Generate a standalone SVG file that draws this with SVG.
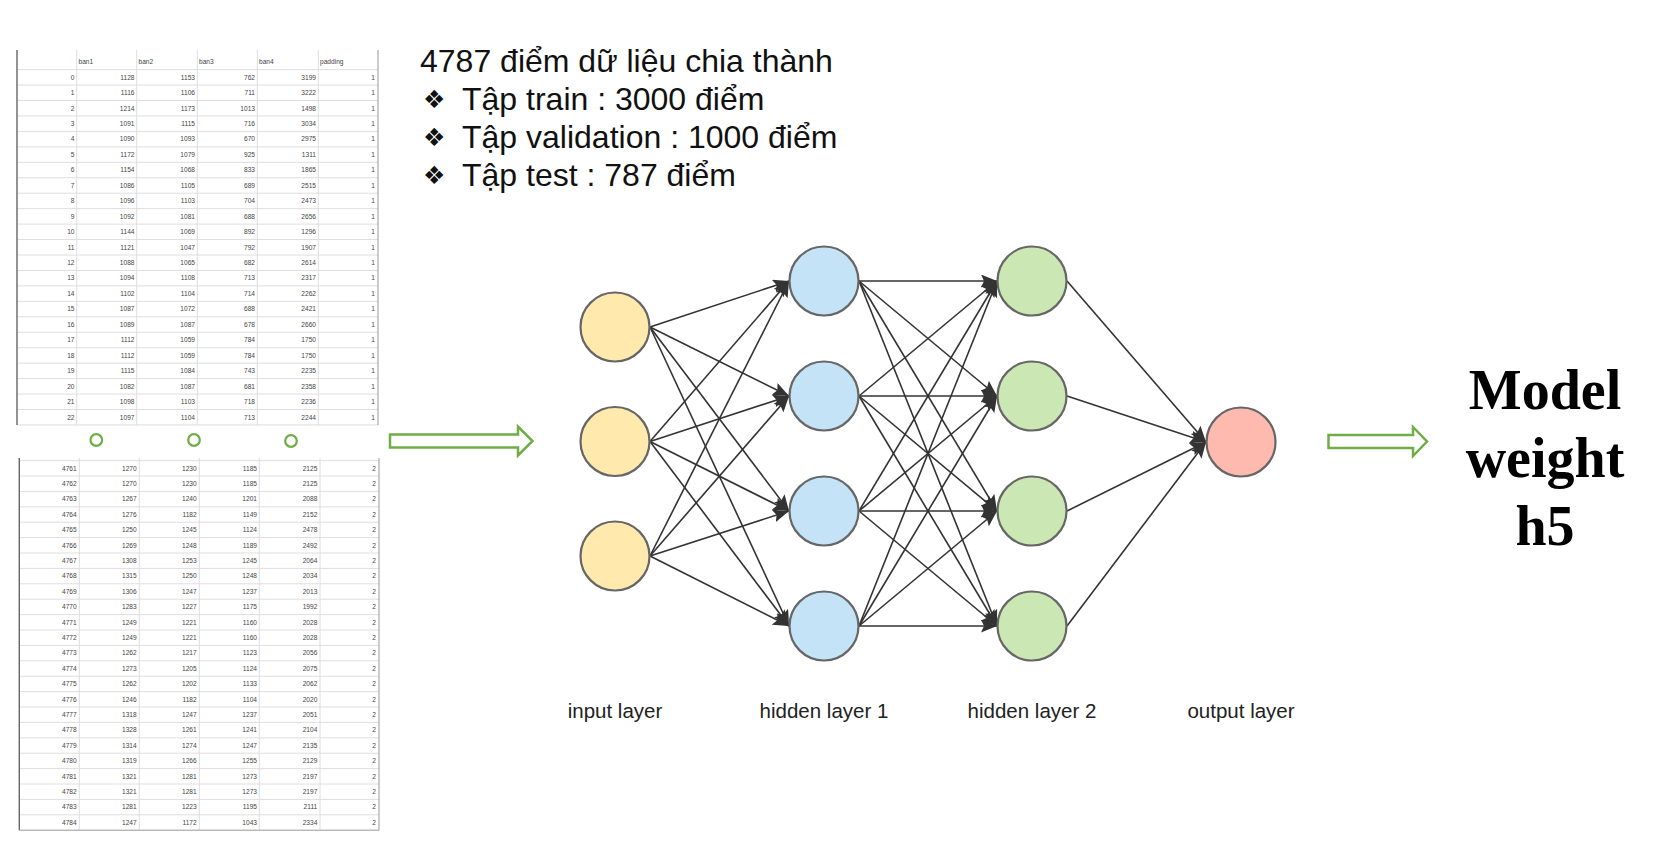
<svg xmlns="http://www.w3.org/2000/svg" width="1660" height="864" viewBox="0 0 1660 864">
<style>
.tb{font-family:"Liberation Sans Narrow","Liberation Sans",Arial,sans-serif;font-size:6.6px;fill:#444}
.r{text-anchor:end}
.grid{stroke:#dedede;stroke-width:1;fill:none}
.bord{stroke:#666;stroke-width:1.4;fill:none}
.big{font-family:"Liberation Sans",Arial,sans-serif;font-size:32px;fill:#111}
.bul{font-family:"DejaVu Sans",sans-serif;font-size:25px;fill:#111}
.lbl{font-family:"Liberation Sans",Arial,sans-serif;font-size:20.5px;fill:#222;text-anchor:middle}
.mw{font-family:"Liberation Serif","Times New Roman",serif;font-weight:bold;font-size:56px;fill:#000;text-anchor:middle}
.node{stroke:#666;stroke-width:2.2}
.in{fill:#ffe9ad}
.h1{fill:#c4e3f6}
.h2{fill:#cbe7b4}
.out{fill:#ffbab0}
.con line{stroke:#333;stroke-width:1.6;marker-end:url(#ah)}
.garrow{fill:#fff;stroke:#70ad47;stroke-width:2.5}
.dot{fill:none;stroke:#70ad47;stroke-width:2.2}
</style>
<defs>
<marker id="ah" markerUnits="userSpaceOnUse" markerWidth="16" markerHeight="13" refX="16" refY="6.5" orient="auto">
<path d="M0,0 L16,6.5 L0,13 L3,6.5 Z" fill="#333"/>
</marker>
</defs>
<rect width="1660" height="864" fill="#fff"/>

<!-- Table 1 -->
<g id="table1">
<path class="grid" d="M17,69.6H378M17,85.05H378M17,100.5H378M17,115.95H378M17,131.4H378M17,146.85H378M17,162.3H378M17,177.75H378M17,193.2H378M17,208.65H378M17,224.1H378M17,239.55H378M17,255H378M17,270.45H378M17,285.9H378M17,301.35H378M17,316.8H378M17,332.25H378M17,347.7H378M17,363.15H378M17,378.6H378M17,394.05H378M17,409.5H378M17,424.95H378"/>
<path class="grid" d="M76.7,50V425M136.7,50V425M197.3,50V425M257.3,50V425M318.3,50V425"/>
<path class="bord" d="M17,50V425"/>
<path d="M378,50V425" stroke="#999" stroke-width="1" fill="none"/>
<g class="tb" transform="translate(0,64)"><text x="78.5">ban1</text><text x="138.5">ban2</text><text x="199">ban3</text><text x="259">ban4</text><text x="320">padding</text></g>
<g class="tb r">
<g transform="translate(0,79.6)"><text x="74.5">0</text><text x="134.5">1128</text><text x="195">1153</text><text x="255">762</text><text x="316">3199</text><text x="375">1</text></g>
<g transform="translate(0,95.05)"><text x="74.5">1</text><text x="134.5">1116</text><text x="195">1106</text><text x="255">711</text><text x="316">3222</text><text x="375">1</text></g>
<g transform="translate(0,110.5)"><text x="74.5">2</text><text x="134.5">1214</text><text x="195">1173</text><text x="255">1013</text><text x="316">1498</text><text x="375">1</text></g>
<g transform="translate(0,125.95)"><text x="74.5">3</text><text x="134.5">1091</text><text x="195">1115</text><text x="255">716</text><text x="316">3034</text><text x="375">1</text></g>
<g transform="translate(0,141.4)"><text x="74.5">4</text><text x="134.5">1090</text><text x="195">1093</text><text x="255">670</text><text x="316">2975</text><text x="375">1</text></g>
<g transform="translate(0,156.85)"><text x="74.5">5</text><text x="134.5">1172</text><text x="195">1079</text><text x="255">925</text><text x="316">1311</text><text x="375">1</text></g>
<g transform="translate(0,172.3)"><text x="74.5">6</text><text x="134.5">1154</text><text x="195">1068</text><text x="255">833</text><text x="316">1865</text><text x="375">1</text></g>
<g transform="translate(0,187.75)"><text x="74.5">7</text><text x="134.5">1086</text><text x="195">1105</text><text x="255">689</text><text x="316">2515</text><text x="375">1</text></g>
<g transform="translate(0,203.2)"><text x="74.5">8</text><text x="134.5">1096</text><text x="195">1103</text><text x="255">704</text><text x="316">2473</text><text x="375">1</text></g>
<g transform="translate(0,218.65)"><text x="74.5">9</text><text x="134.5">1092</text><text x="195">1081</text><text x="255">688</text><text x="316">2656</text><text x="375">1</text></g>
<g transform="translate(0,234.1)"><text x="74.5">10</text><text x="134.5">1144</text><text x="195">1069</text><text x="255">892</text><text x="316">1296</text><text x="375">1</text></g>
<g transform="translate(0,249.55)"><text x="74.5">11</text><text x="134.5">1121</text><text x="195">1047</text><text x="255">792</text><text x="316">1907</text><text x="375">1</text></g>
<g transform="translate(0,265)"><text x="74.5">12</text><text x="134.5">1088</text><text x="195">1065</text><text x="255">682</text><text x="316">2614</text><text x="375">1</text></g>
<g transform="translate(0,280.45)"><text x="74.5">13</text><text x="134.5">1094</text><text x="195">1108</text><text x="255">713</text><text x="316">2317</text><text x="375">1</text></g>
<g transform="translate(0,295.9)"><text x="74.5">14</text><text x="134.5">1102</text><text x="195">1104</text><text x="255">714</text><text x="316">2262</text><text x="375">1</text></g>
<g transform="translate(0,311.35)"><text x="74.5">15</text><text x="134.5">1087</text><text x="195">1072</text><text x="255">688</text><text x="316">2421</text><text x="375">1</text></g>
<g transform="translate(0,326.8)"><text x="74.5">16</text><text x="134.5">1089</text><text x="195">1087</text><text x="255">678</text><text x="316">2660</text><text x="375">1</text></g>
<g transform="translate(0,342.25)"><text x="74.5">17</text><text x="134.5">1112</text><text x="195">1059</text><text x="255">784</text><text x="316">1750</text><text x="375">1</text></g>
<g transform="translate(0,357.7)"><text x="74.5">18</text><text x="134.5">1112</text><text x="195">1059</text><text x="255">784</text><text x="316">1750</text><text x="375">1</text></g>
<g transform="translate(0,373.15)"><text x="74.5">19</text><text x="134.5">1115</text><text x="195">1084</text><text x="255">743</text><text x="316">2235</text><text x="375">1</text></g>
<g transform="translate(0,388.6)"><text x="74.5">20</text><text x="134.5">1082</text><text x="195">1087</text><text x="255">681</text><text x="316">2358</text><text x="375">1</text></g>
<g transform="translate(0,404.05)"><text x="74.5">21</text><text x="134.5">1098</text><text x="195">1103</text><text x="255">718</text><text x="316">2236</text><text x="375">1</text></g>
<g transform="translate(0,419.5)"><text x="74.5">22</text><text x="134.5">1097</text><text x="195">1104</text><text x="255">713</text><text x="316">2244</text><text x="375">1</text></g>
</g>
</g>

<!-- ellipsis dots -->
<g id="dots">
<circle class="dot" cx="96.3" cy="440" r="5.8"/>
<circle class="dot" cx="194" cy="440" r="5.8"/>
<circle class="dot" cx="291" cy="441" r="5.8"/>
</g>

<!-- Table 2 -->
<g id="table2">
<path class="grid" d="M19.3,460.6H379M19.3,476H379M19.3,491.4H379M19.3,506.8H379M19.3,522.2H379M19.3,537.6H379M19.3,553H379M19.3,568.4H379M19.3,583.8H379M19.3,599.2H379M19.3,614.6H379M19.3,630H379M19.3,645.4H379M19.3,660.8H379M19.3,676.2H379M19.3,691.6H379M19.3,707H379M19.3,722.4H379M19.3,737.8H379M19.3,753.2H379M19.3,768.6H379M19.3,784H379M19.3,799.4H379M19.3,814.8H379"/>
<path class="grid" d="M79.3,458V830M139.3,458V830M199.3,458V830M259.3,458V830M320,458V830"/>
<path class="bord" d="M19.3,458V830.2"/>
<path d="M379,458V830.2M19.3,830.2H379" stroke="#999" stroke-width="1" fill="none"/>
<g class="tb r">
<g transform="translate(0,470.6)"><text x="76.7">4761</text><text x="136.7">1270</text><text x="196.7">1230</text><text x="257">1185</text><text x="317.3">2125</text><text x="376">2</text></g>
<g transform="translate(0,486)"><text x="76.7">4762</text><text x="136.7">1270</text><text x="196.7">1230</text><text x="257">1185</text><text x="317.3">2125</text><text x="376">2</text></g>
<g transform="translate(0,501.4)"><text x="76.7">4763</text><text x="136.7">1267</text><text x="196.7">1240</text><text x="257">1201</text><text x="317.3">2088</text><text x="376">2</text></g>
<g transform="translate(0,516.8)"><text x="76.7">4764</text><text x="136.7">1276</text><text x="196.7">1182</text><text x="257">1149</text><text x="317.3">2152</text><text x="376">2</text></g>
<g transform="translate(0,532.2)"><text x="76.7">4765</text><text x="136.7">1250</text><text x="196.7">1245</text><text x="257">1124</text><text x="317.3">2478</text><text x="376">2</text></g>
<g transform="translate(0,547.6)"><text x="76.7">4766</text><text x="136.7">1269</text><text x="196.7">1248</text><text x="257">1189</text><text x="317.3">2492</text><text x="376">2</text></g>
<g transform="translate(0,563)"><text x="76.7">4767</text><text x="136.7">1308</text><text x="196.7">1253</text><text x="257">1245</text><text x="317.3">2064</text><text x="376">2</text></g>
<g transform="translate(0,578.4)"><text x="76.7">4768</text><text x="136.7">1315</text><text x="196.7">1250</text><text x="257">1248</text><text x="317.3">2034</text><text x="376">2</text></g>
<g transform="translate(0,593.8)"><text x="76.7">4769</text><text x="136.7">1306</text><text x="196.7">1247</text><text x="257">1237</text><text x="317.3">2013</text><text x="376">2</text></g>
<g transform="translate(0,609.2)"><text x="76.7">4770</text><text x="136.7">1283</text><text x="196.7">1227</text><text x="257">1175</text><text x="317.3">1992</text><text x="376">2</text></g>
<g transform="translate(0,624.6)"><text x="76.7">4771</text><text x="136.7">1249</text><text x="196.7">1221</text><text x="257">1160</text><text x="317.3">2028</text><text x="376">2</text></g>
<g transform="translate(0,640)"><text x="76.7">4772</text><text x="136.7">1249</text><text x="196.7">1221</text><text x="257">1160</text><text x="317.3">2028</text><text x="376">2</text></g>
<g transform="translate(0,655.4)"><text x="76.7">4773</text><text x="136.7">1262</text><text x="196.7">1217</text><text x="257">1123</text><text x="317.3">2056</text><text x="376">2</text></g>
<g transform="translate(0,670.8)"><text x="76.7">4774</text><text x="136.7">1273</text><text x="196.7">1205</text><text x="257">1124</text><text x="317.3">2075</text><text x="376">2</text></g>
<g transform="translate(0,686.2)"><text x="76.7">4775</text><text x="136.7">1262</text><text x="196.7">1202</text><text x="257">1133</text><text x="317.3">2062</text><text x="376">2</text></g>
<g transform="translate(0,701.6)"><text x="76.7">4776</text><text x="136.7">1246</text><text x="196.7">1182</text><text x="257">1104</text><text x="317.3">2020</text><text x="376">2</text></g>
<g transform="translate(0,717)"><text x="76.7">4777</text><text x="136.7">1318</text><text x="196.7">1247</text><text x="257">1237</text><text x="317.3">2051</text><text x="376">2</text></g>
<g transform="translate(0,732.4)"><text x="76.7">4778</text><text x="136.7">1328</text><text x="196.7">1261</text><text x="257">1241</text><text x="317.3">2104</text><text x="376">2</text></g>
<g transform="translate(0,747.8)"><text x="76.7">4779</text><text x="136.7">1314</text><text x="196.7">1274</text><text x="257">1247</text><text x="317.3">2135</text><text x="376">2</text></g>
<g transform="translate(0,763.2)"><text x="76.7">4780</text><text x="136.7">1319</text><text x="196.7">1266</text><text x="257">1255</text><text x="317.3">2129</text><text x="376">2</text></g>
<g transform="translate(0,778.6)"><text x="76.7">4781</text><text x="136.7">1321</text><text x="196.7">1281</text><text x="257">1273</text><text x="317.3">2197</text><text x="376">2</text></g>
<g transform="translate(0,794)"><text x="76.7">4782</text><text x="136.7">1321</text><text x="196.7">1281</text><text x="257">1273</text><text x="317.3">2197</text><text x="376">2</text></g>
<g transform="translate(0,809.4)"><text x="76.7">4783</text><text x="136.7">1281</text><text x="196.7">1223</text><text x="257">1195</text><text x="317.3">2111</text><text x="376">2</text></g>
<g transform="translate(0,824.8)"><text x="76.7">4784</text><text x="136.7">1247</text><text x="196.7">1172</text><text x="257">1043</text><text x="317.3">2334</text><text x="376">2</text></g>
</g>
</g>

<!-- Split text -->
<g id="split-text">
<text class="big" x="420" y="72">4787 điểm dữ liệu chia thành</text>
<text class="bul" x="423" y="108">❖</text><text class="big" x="462" y="110">Tập train : 3000 điểm</text>
<text class="bul" x="423" y="146">❖</text><text class="big" x="462" y="148">Tập validation : 1000 điểm</text>
<text class="bul" x="423" y="184">❖</text><text class="big" x="462" y="186">Tập test : 787 điểm</text>
</g>

<!-- Green block arrows -->
<g id="arrow-data">
<path class="garrow" d="M390,434.5H518V426.5L532.5,441L518,455.5V447.5H390Z"/>
</g>
<g id="arrow-model">
<path class="garrow" d="M1328.5,435H1413V427L1427,441.5L1413,456V448H1328.5Z"/>
</g>

<!-- Connectors -->
<g id="connectors" class="con">
<line x1="650" y1="327" x2="789" y2="281"/>
<line x1="650" y1="327" x2="789" y2="396"/>
<line x1="650" y1="327" x2="789" y2="511"/>
<line x1="650" y1="327" x2="789" y2="626"/>
<line x1="650" y1="441.5" x2="789" y2="281"/>
<line x1="650" y1="441.5" x2="789" y2="396"/>
<line x1="650" y1="441.5" x2="789" y2="511"/>
<line x1="650" y1="441.5" x2="789" y2="626"/>
<line x1="650" y1="556" x2="789" y2="281"/>
<line x1="650" y1="556" x2="789" y2="396"/>
<line x1="650" y1="556" x2="789" y2="511"/>
<line x1="650" y1="556" x2="789" y2="626"/>
<line x1="859" y1="281" x2="997" y2="281"/>
<line x1="859" y1="281" x2="997" y2="396"/>
<line x1="859" y1="281" x2="997" y2="511"/>
<line x1="859" y1="281" x2="997" y2="626"/>
<line x1="859" y1="396" x2="997" y2="281"/>
<line x1="859" y1="396" x2="997" y2="396"/>
<line x1="859" y1="396" x2="997" y2="511"/>
<line x1="859" y1="396" x2="997" y2="626"/>
<line x1="859" y1="511" x2="997" y2="281"/>
<line x1="859" y1="511" x2="997" y2="396"/>
<line x1="859" y1="511" x2="997" y2="511"/>
<line x1="859" y1="511" x2="997" y2="626"/>
<line x1="859" y1="626" x2="997" y2="281"/>
<line x1="859" y1="626" x2="997" y2="396"/>
<line x1="859" y1="626" x2="997" y2="511"/>
<line x1="859" y1="626" x2="997" y2="626"/>
<line x1="1067" y1="281" x2="1206" y2="442"/>
<line x1="1067" y1="396" x2="1206" y2="442"/>
<line x1="1067" y1="511" x2="1206" y2="442"/>
<line x1="1067" y1="626" x2="1206" y2="442"/>
</g>

<!-- Nodes -->
<g id="in1"><circle class="node in" cx="615" cy="327" r="34.5"/></g>
<g id="in2"><circle class="node in" cx="615" cy="441.5" r="34.5"/></g>
<g id="in3"><circle class="node in" cx="615" cy="556" r="34.5"/></g>
<g id="h1a"><circle class="node h1" cx="824" cy="281" r="34.5"/></g>
<g id="h1b"><circle class="node h1" cx="824" cy="396" r="34.5"/></g>
<g id="h1c"><circle class="node h1" cx="824" cy="511" r="34.5"/></g>
<g id="h1d"><circle class="node h1" cx="824" cy="626" r="34.5"/></g>
<g id="h2a"><circle class="node h2" cx="1032" cy="281" r="34.5"/></g>
<g id="h2b"><circle class="node h2" cx="1032" cy="396" r="34.5"/></g>
<g id="h2c"><circle class="node h2" cx="1032" cy="511" r="34.5"/></g>
<g id="h2d"><circle class="node h2" cx="1032" cy="626" r="34.5"/></g>
<g id="out"><circle class="node out" cx="1241" cy="442" r="34.5"/></g>

<!-- Layer labels -->
<g id="labels">
<text class="lbl" x="615" y="718">input layer</text>
<text class="lbl" x="824" y="718">hidden layer 1</text>
<text class="lbl" x="1032" y="718">hidden layer 2</text>
<text class="lbl" x="1241" y="718">output layer</text>
</g>

<!-- Model weight -->
<g id="model-weight">
<text class="mw" x="1545" y="409">Model</text>
<text class="mw" x="1545" y="477">weight</text>
<text class="mw" x="1545" y="545">h5</text>
</g>
</svg>
